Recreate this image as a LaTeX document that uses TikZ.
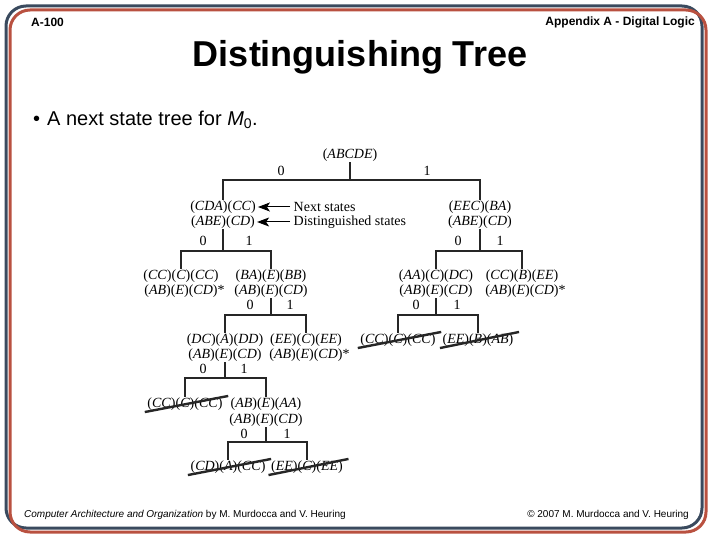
\documentclass[tikz,border=0pt]{standalone}
\usepackage{fontspec}
\setmainfont{Liberation Serif}
\newfontfamily\hfont{Liberation Sans}
\usetikzlibrary{arrows.meta}
\definecolor{bblue}{RGB}{58,74,94}
\definecolor{bred}{RGB}{185,81,64}
\newcommand{\pq}[1]{(\textit{#1})}
\begin{document}
\begin{tikzpicture}[x=1pt,y=-1pt,
  st/.style={font=\fontsize{14}{15}\selectfont, inner sep=0.5pt},
  lbl/.style={font=\fontsize{14}{15}\selectfont, inner sep=0pt},
  tl/.style={line width=1.3pt, draw=black!85},
  strike/.style={line width=2.4pt, draw=black!85},
  arr/.style={line width=1pt, draw=black, -{Stealth[length=12pt,width=9pt,inset=3pt]}},
  border/.style={line width=3pt, rounded corners=20pt}]
\useasboundingbox (0,0) rectangle (720,540);
\fill[white] (0,0) rectangle (720,540);
\draw[border, bblue] (6,6) rectangle (702,528);
\draw[border, bred] (10,10) rectangle (706,532);

% header
\node[anchor=west, inner sep=0pt, font=\hfont\bfseries\fontsize{12}{14}\selectfont] (hl) at (31,22) {A-100};
\node[anchor=east, inner sep=0pt, font=\hfont\bfseries\fontsize{12}{14}\selectfont] (hr) at (695,22) {Appendix A - Digital Logic};
\node[inner sep=0pt, font=\hfont\bfseries\fontsize{36}{40}\selectfont] (title) at (360,57) {Distinguishing Tree};
\node[anchor=west, inner sep=0pt, font=\hfont\fontsize{20}{24}\selectfont] (bul) at (33,120) {\textbullet\hspace{7pt}A next state tree for \textit{M}\textsubscript{0}.};

% footer
\node[anchor=west, inner sep=0pt, font=\hfont\fontsize{10}{12}\selectfont] (fl) at (24,515) {\textit{Computer Architecture and Organization} by M. Murdocca and V. Heuring};
\node[anchor=east, inner sep=0pt, font=\hfont\fontsize{10}{12}\selectfont] (fr) at (689,515) {\copyright\ 2007 M. Murdocca and V. Heuring};

% root
\node[st] (r) at (350,155) {\pq{ABCDE}};
\coordinate (rbar) at (350,180);
\node[lbl] (r0) at (281,171) {0};
\node[lbl] (r1) at (427,171) {1};

% level 1
\node[st] (La) at (223,207) {\pq{CDA}\pq{CC}};
\node[st] (Lb) at (223,222) {\pq{ABE}\pq{CD}};
\node[st] (Ra) at (480,207) {\pq{EEC}\pq{BA}};
\node[st] (Rb) at (480,222) {\pq{ABE}\pq{CD}};
\draw[tl] (r.south) -- (rbar);
\draw[tl] (La.north) |- (rbar) -| (Ra.north);

\node[st, anchor=west] (ns) at (293,207) {Next states};
\node[st, anchor=west] (ds) at (293,222) {Distinguished states};
\draw[arr] ([xshift=-3pt]ns.west) -- ([xshift=1.5pt]La.east);
\draw[arr] ([xshift=-3pt]ds.west) -- ([xshift=1.5pt]Lb.east);

\coordinate (Lbar) at (223,251);
\node[lbl] (L0) at (203,241) {0};
\node[lbl] (L1) at (249,241) {1};
\coordinate (Rbar) at (480,251);
\node[lbl] (R0) at (458,241) {0};
\node[lbl] (R1) at (500,241) {1};

% level 2
\node[st] (LLa) at (181,276) {\pq{CC}\pq{C}\pq{CC}};
\node[st] (LLb) at (181,291) {\pq{AB}\pq{E}\pq{CD}\rlap{*}};
\node[st] (LRa) at (271,276) {\pq{BA}\pq{E}\pq{BB}};
\node[st] (LRb) at (271,291) {\pq{AB}\pq{E}\pq{CD}};
\node[st] (RLa) at (436,276) {\pq{AA}\pq{C}\pq{DC}};
\node[st] (RLb) at (436,291) {\pq{AB}\pq{E}\pq{CD}};
\node[st] (RRa) at (522,276) {\pq{CC}\pq{B}\pq{EE}};
\node[st] (RRb) at (522,291) {\pq{AB}\pq{E}\pq{CD}\rlap{*}};
\draw[tl] (Lb.south) -- (Lbar);
\draw[tl] (LLa.north) |- (Lbar) -| (LRa.north);
\draw[tl] (Rb.south) -- (Rbar);
\draw[tl] (RLa.north) |- (Rbar) -| (RRa.north);

\coordinate (LRbar) at (271,315);
\node[lbl] (LR0) at (250,305) {0};
\node[lbl] (LR1) at (290,305) {1};
\coordinate (RLbar) at (436,315);
\node[lbl] (RL0) at (416,305) {0};
\node[lbl] (RL1) at (457,305) {1};

% level 3
\node[st] (LRLa) at (225,340) {\pq{DC}\pq{A}\pq{DD}};
\node[st] (LRLb) at (225,355) {\pq{AB}\pq{E}\pq{CD}};
\node[st] (LRRa) at (306,340) {\pq{EE}\pq{C}\pq{EE}};
\node[st] (LRRb) at (306,355) {\pq{AB}\pq{E}\pq{CD}\rlap{*}};
\node[st] (RLL) at (398,340) {\pq{CC}\pq{C}\pq{CC}};
\node[st] (RLR) at (478,340) {\pq{EE}\pq{B}\pq{AB}};
\draw[tl] (LRb.south) -- (LRbar);
\draw[tl] (LRLa.north) |- (LRbar) -| (LRRa.north);
\draw[tl] (RLb.south) -- (RLbar);
\draw[tl] (RLL.north) |- (RLbar) -| (RLR.north);
\draw[strike] ([xshift=-2pt,yshift=-1pt]RLL.south west) -- ([xshift=5pt,yshift=1pt]RLL.north east);
\draw[strike] ([xshift=-2pt,yshift=-1pt]RLR.south west) -- ([xshift=5pt,yshift=1pt]RLR.north east);

\coordinate (LRLbar) at (225,378);
\node[lbl] (LRL0) at (203,369) {0};
\node[lbl] (LRL1) at (244,369) {1};

% level 4
\node[st] (LRLL) at (185,404) {\pq{CC}\pq{C}\pq{CC}};
\node[st] (LRLRa) at (266,404) {\pq{AB}\pq{E}\pq{AA}};
\node[st] (LRLRb) at (266,420) {\pq{AB}\pq{E}\pq{CD}};
\draw[tl] (LRLb.south) -- (LRLbar);
\draw[tl] (LRLL.north) |- (LRLbar) -| (LRLRa.north);
\draw[strike] ([xshift=-2pt,yshift=-1pt]LRLL.south west) -- ([xshift=5pt,yshift=1pt]LRLL.north east);

\coordinate (LRLRbar) at (266,442);
\node[lbl] (LRLR0) at (244,434) {0};
\node[lbl] (LRLR1) at (287,434) {1};

% level 5
\node[st] (LRLRL) at (228,467) {\pq{CD}\pq{A}\pq{CC}};
\node[st] (LRLRR) at (307,467) {\pq{EE}\pq{C}\pq{EE}};
\draw[tl] (LRLRb.south) -- (LRLRbar);
\draw[tl] (LRLRL.north) |- (LRLRbar) -| (LRLRR.north);
\draw[strike] ([xshift=-2pt,yshift=-1pt]LRLRL.south west) -- ([xshift=5pt,yshift=1pt]LRLRL.north east);
\draw[strike] ([xshift=-2pt,yshift=-1pt]LRLRR.south west) -- ([xshift=5pt,yshift=1pt]LRLRR.north east);
\end{tikzpicture}
\end{document}
